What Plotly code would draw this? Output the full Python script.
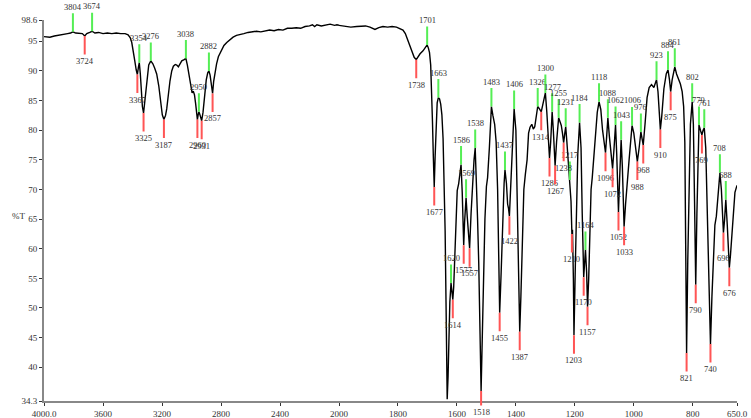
import numpy as np
import plotly.graph_objects as go

# ---- spectrum (wavenumber cm-1, %T) ----
wavenumber = [
    4000, 3960, 3930, 3900, 3870, 3840, 3820, 3804, 3785, 3760, 3740, 3724, 3710, 3690, 3674, 3655,
    3630, 3600, 3570, 3540, 3510, 3480, 3450, 3430, 3415, 3405, 3395, 3385, 3375, 3367, 3360, 3354,
    3347, 3340, 3333, 3325, 3318, 3310, 3300, 3290, 3276, 3262, 3250, 3236, 3222, 3210, 3198, 3187,
    3176, 3168, 3157, 3146, 3134, 3123, 3110, 3100, 3089, 3078, 3066, 3050, 3038, 3028, 3018, 3010,
    3003, 2996, 2988, 2980, 2972, 2965, 2960, 2955, 2950, 2945, 2938, 2931, 2922, 2912, 2900, 2890,
    2882, 2874, 2866, 2857, 2850, 2841, 2830, 2818, 2800, 2780, 2761, 2740, 2718, 2695, 2671, 2645,
    2617, 2590, 2560, 2530, 2500, 2470, 2440, 2410, 2380, 2350, 2320, 2290, 2260, 2230, 2200, 2180,
    2165, 2150, 2120, 2090, 2060, 2030, 2014, 2000,
    1980, 1960, 1940, 1929, 1910, 1895, 1878, 1865, 1851, 1835, 1820, 1805, 1793, 1783, 1775, 1768,
    1760, 1752, 1745, 1738, 1732, 1725, 1715, 1708, 1701, 1697, 1693, 1689, 1686, 1683, 1680, 1677,
    1674, 1671, 1667, 1663, 1659, 1655, 1651, 1647, 1643, 1640, 1637, 1635, 1633, 1630, 1627, 1624,
    1620, 1617, 1614, 1611, 1607, 1603, 1599, 1594, 1590, 1586, 1582, 1580, 1577, 1574, 1572, 1569,
    1565, 1561, 1557, 1552, 1547, 1542, 1538, 1534, 1530, 1526, 1522, 1518, 1514, 1510, 1505, 1500,
    1496, 1490, 1486, 1483, 1478, 1472, 1467, 1462, 1458, 1455, 1450, 1445, 1440, 1437, 1432, 1428,
    1425, 1422, 1416, 1411, 1406, 1400, 1395, 1391, 1387, 1383, 1378, 1373, 1368, 1362, 1357, 1352,
    1346, 1341, 1336, 1331, 1326, 1320, 1314, 1308, 1300, 1295, 1290, 1286, 1282, 1277, 1273, 1270,
    1267, 1262, 1258, 1255, 1250, 1246, 1242, 1238, 1234, 1231, 1227, 1222, 1217, 1213, 1210, 1208,
    1205, 1203, 1198, 1194, 1190, 1184, 1179, 1175, 1170, 1167, 1164, 1160, 1157, 1153, 1149, 1145,
    1141, 1136, 1130, 1124, 1118, 1112, 1106, 1100, 1096, 1092, 1088, 1083, 1077, 1072, 1067, 1062,
    1058, 1055, 1052, 1048, 1043, 1039, 1036, 1033, 1028, 1022, 1016, 1010, 1006, 1000, 994, 988,
    982, 976, 972, 968, 962, 955, 948, 940, 932, 927, 923, 918, 914, 910, 905, 898,
    890, 884, 879, 875, 870, 865, 861, 855, 848, 842, 836, 831, 827, 824, 821, 817,
    813, 808, 802, 798, 794, 790, 786, 783, 779, 774, 769, 765, 761, 756, 751, 746,
    740, 735, 730, 725, 720, 715, 708, 703, 699, 696, 692, 688, 683, 679, 676, 672,
    667, 662, 657, 650,
]
transmittance = [
    95.8, 95.7, 95.9, 96.0, 96.1, 96.3, 96.4, 96.6, 96.4, 96.4, 96.3, 95.9, 96.3, 96.5, 96.7, 96.4,
    96.5, 96.3, 96.4, 96.3, 96.4, 96.3, 96.3, 96.1, 95.6, 94.8, 93.5, 91.8, 90.2, 89.4, 90.6, 91.4,
    89.5, 86.5, 84.0, 82.9, 84.5, 87.0, 89.6, 91.0, 91.7, 91.2, 90.5, 89.5, 87.5, 85.0, 82.6, 81.8,
    82.5, 83.6, 86.5, 88.3, 90.0, 90.8, 91.1, 91.0, 90.7, 91.3, 91.7, 91.9, 92.1, 91.0, 89.5, 88.5,
    86.8, 86.3, 86.6, 86.0, 84.5, 82.8, 81.8, 82.6, 83.1, 82.8, 82.0, 81.6, 83.0, 85.5, 88.5, 89.7,
    90.0, 89.3, 88.0, 86.2, 88.2, 89.8, 91.2, 92.4, 93.4, 94.3, 94.8, 95.3, 95.7, 96.0, 96.1, 96.3,
    96.5, 96.6, 96.7, 96.6, 96.8, 96.9, 96.8, 97.0, 96.9, 97.2, 97.2, 97.3, 97.2, 97.5, 97.6, 97.8,
    97.5, 97.8, 97.6, 97.8, 97.9, 97.7, 97.8, 97.7,
    97.6, 97.4, 97.5, 97.5, 97.6, 97.4, 97.0, 97.3, 97.5, 97.4, 97.5, 97.4, 97.2, 96.9, 96.3, 95.3,
    94.2, 93.0, 92.3, 91.9, 92.4, 92.9, 93.4, 93.9, 94.4, 93.9, 93.1, 91.0, 87.0, 81.5, 75.5, 70.4,
    75.5, 81.0, 84.6, 85.5, 85.3, 84.4, 82.6, 78.6, 72.0, 63.0, 51.0, 42.0, 34.6, 38.5, 45.0, 51.0,
    54.2, 53.0, 51.4, 53.5, 60.0, 66.5, 69.8, 71.0, 72.5, 74.2, 69.5, 65.0, 60.6, 64.5, 66.5, 68.6,
    65.4, 63.0, 60.1, 66.0, 71.6, 75.0, 77.0, 72.0, 65.0, 57.6, 48.0, 36.0, 45.0, 55.0, 65.0, 70.5,
    72.0, 77.0, 82.0, 84.0, 82.5, 81.0, 78.0, 70.0, 58.0, 49.2, 56.0, 65.0, 71.0, 73.3, 71.0, 67.5,
    66.8, 65.5, 72.0, 80.0, 83.6, 80.0, 68.0, 55.0, 46.0, 52.0, 62.0, 70.0, 72.5, 75.0, 79.5, 80.5,
    81.0, 80.2, 80.6, 82.0, 84.0, 83.6, 83.1, 84.5, 86.3, 83.0, 78.0, 75.3, 78.0, 83.1, 80.0, 76.0,
    74.0, 78.0, 81.0, 82.1, 81.4, 80.8, 79.5, 77.9, 79.5, 80.6, 78.0, 74.0, 71.6, 68.0, 62.5, 63.2,
    55.0, 45.4, 58.0, 68.0, 76.0, 81.3, 77.0, 66.0, 55.2, 57.5, 59.8, 56.0, 50.2, 55.0, 63.0, 70.0,
    72.0, 75.0, 79.0, 83.0, 84.8, 83.5, 80.0, 77.0, 76.2, 79.0, 82.1, 79.0, 75.5, 73.5, 77.0, 80.9,
    76.0, 70.0, 66.2, 72.0, 78.4, 74.0, 68.0, 63.7, 67.5, 72.0, 75.0, 78.5, 80.8, 79.5, 76.5, 74.7,
    77.0, 79.7, 78.6, 77.5, 81.0, 85.5, 87.2, 87.7, 87.2, 87.8, 88.5, 86.5, 83.0, 80.1, 82.5, 87.0,
    89.5, 90.2, 88.5, 86.5, 88.5, 90.2, 90.7, 89.5, 88.5, 87.8, 86.5, 84.0, 78.0, 62.0, 42.4, 58.0,
    72.0, 81.0, 84.8, 81.0, 68.0, 53.9, 66.0, 76.0, 80.9, 80.0, 79.2, 80.0, 80.4, 77.0, 68.0, 55.0,
    43.9, 52.0, 60.0, 64.0, 65.5, 69.0, 72.8, 70.0, 66.0, 62.7, 65.0, 68.3, 64.0, 59.0, 56.8, 59.0,
    62.0, 66.0, 69.5, 70.7,
]

# labelled peaks (green, above) and valleys (red, below)
peak_max = [3804, 3674, 3354, 3276, 3038, 2950, 2882, 1701, 1663, 1620, 1586, 1569, 1538, 1483,
            1437, 1406, 1326, 1300, 1277, 1255, 1231, 1217, 1184, 1164, 1118, 1088, 1062, 1043,
            1006, 976, 923, 884, 861, 802, 779, 761, 708, 688]
peak_min = [3724, 3367, 3325, 3187, 2960, 2931, 2857, 1738, 1677, 1614, 1577, 1557, 1518, 1455,
            1422, 1387, 1314, 1286, 1267, 1238, 1210, 1203, 1170, 1157, 1096, 1072, 1052, 1033,
            988, 968, 910, 875, 821, 790, 769, 740, 696, 676]

x_ticks_hi = [4000, 3600, 3200, 2800, 2400]
x_text_hi = ["4000.0", "3600", "3200", "2800", "2400"]
x_ticks_lo = [2000, 1800, 1600, 1400, 1200, 1000, 800, 650]
x_text_lo = ["2000", "1800", "1600", "1400", "1200", "1000", "800", "650.0"]
y_ticks = [34.3, 40, 45, 50, 55, 60, 65, 70, 75, 80, 85, 90, 95, 98.6]
y_text = ["34.3", "40", "45", "50", "55", "60", "65", "70", "75", "80", "85", "90", "95", "98.6"]

FONT = "Liberation Serif, Times New Roman, serif"
Y_MIN, Y_MAX = 34.3, 98.6
PLOT_TOP, PLOT_BOTTOM = 20, 401
PX_PER_UNIT = (PLOT_BOTTOM - PLOT_TOP) / (Y_MAX - Y_MIN)

wn = np.array(wavenumber, dtype=float)
tr = np.array(transmittance, dtype=float)
order = np.argsort(wn)


def t_at(w):
    return float(np.interp(w, wn[order], tr[order]))


hi = wn >= 2000
lo = wn <= 2000

fig = go.Figure()
fig.add_trace(go.Scatter(x=wn[hi], y=tr[hi], mode="lines", xaxis="x", yaxis="y",
                         line=dict(color="black", width=1.4), hoverinfo="skip", showlegend=False))
fig.add_trace(go.Scatter(x=wn[lo], y=tr[lo], mode="lines", xaxis="x2", yaxis="y",
                         line=dict(color="black", width=1.4), hoverinfo="skip", showlegend=False))

annotations = []
for w in peak_max:
    annotations.append(dict(
        x=w, y=t_at(w), xref="x" if w >= 2000 else "x2", yref="y",
        text=str(w), showarrow=True, arrowhead=0, arrowwidth=2, arrowcolor="#55ee55",
        ax=0, ay=-25, standoff=0, font=dict(family=FONT, size=8.5, color="#333")))
for w in peak_min:
    t = t_at(w)
    py = PLOT_BOTTOM - (t - Y_MIN) * PX_PER_UNIT
    ay = min(25, 412 - py)
    annotations.append(dict(
        x=w, y=t, xref="x" if w >= 2000 else "x2", yref="y",
        text=str(w), showarrow=True, arrowhead=0, arrowwidth=2, arrowcolor="#ff5555",
        ax=0, ay=ay, standoff=0, font=dict(family=FONT, size=8.5, color="#333")))

annotations.append(dict(x=-0.0375, y=0.486, xref="paper", yref="paper", text="%T",
                        xanchor="center", yanchor="middle",
                        showarrow=False, font=dict(family=FONT, size=9, color="#333")))
annotations.append(dict(x=0.5, y=-0.033, xref="paper", yref="paper", text="cm-1",
                        xanchor="center", yanchor="top",
                        showarrow=False, font=dict(family=FONT, size=9, color="#333")))

split = 295 / 693
axis_common = dict(showline=True, linecolor="#888888", linewidth=2, ticks="outside",
                   ticklen=3, tickcolor="#333", tickwidth=1, showgrid=False, zeroline=False,
                   automargin=False, tickfont=dict(family=FONT, size=9, color="#333"))

fig.update_layout(
    width=751, height=418,
    margin=dict(l=44, r=14, t=20, b=17),
    paper_bgcolor="white", plot_bgcolor="white",
    xaxis=dict(domain=[0, split], range=[4000, 2000], anchor="y",
               tickmode="array", tickvals=x_ticks_hi, ticktext=x_text_hi, **axis_common),
    xaxis2=dict(domain=[split, 1], range=[2000, 650], anchor="y",
                tickmode="array", tickvals=x_ticks_lo, ticktext=x_text_lo, **axis_common),
    yaxis=dict(range=[Y_MIN, Y_MAX], anchor="x", tickmode="array",
               tickvals=y_ticks, ticktext=y_text, **axis_common),
    annotations=annotations,
)

fig.write_html("out.html", config={"displayModeBar": False},
               post_script="document.body.style.margin='0';document.body.style.overflow='hidden';")
